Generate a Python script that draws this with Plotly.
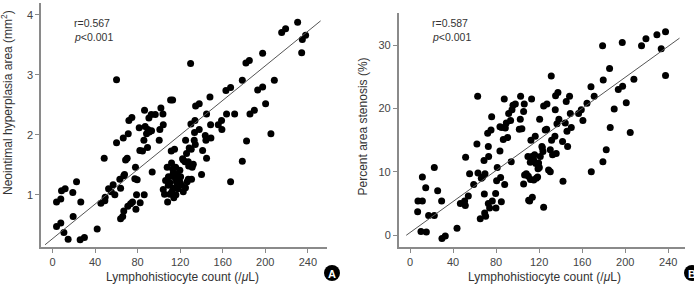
import plotly.graph_objects as go

# ---- Panel A data: lymphohistiocyte count vs neointimal hyperplasia area ----
a_x = [3.8, 7.8, 10.7, 14.7, 3.8, 7.8, 8.5, 11.9, 19.1, 22.6, 19.4, 26.6, 26, 30, 42,
       45.5, 49.2, 49.5, 48.6, 52.7, 55.2, 57, 58.6, 60.2, 60.2, 64, 63.3, 64, 66, 67,
       66.5, 67, 67.7, 68.7, 70.2, 71.2, 71.8, 74.6, 70.8, 73.4, 75.2, 77.4, 79.6, 78,
       78.4, 79, 81.5, 82.1, 84.6, 82.4, 85.9, 86.2, 86.5, 87.1, 88.4, 89.3, 90.6, 92.8,
       89.7, 90.9, 93.1, 93.7, 96.6, 100.3, 100.9, 101.9, 103.8, 104.1,
       104.1, 105.3, 106.3, 107.8, 108.2, 110.3, 108.8, 110.3, 111, 112.9, 111.9, 111.6,
       112.2, 113.5, 112.5, 113.5, 114.7, 115.7, 115.7, 116.6, 117.2, 118.2, 119.1, 119.7,
       120.4, 121.3, 122.3, 122.9, 122.9, 124.5, 126, 125.1, 126.6, 127.6, 127.6, 128.5,
       129.8, 130.1, 130.4, 130.7, 131.3, 132.3, 133.2, 134.2, 133.9, 134.5, 133.5, 137.9,
       137.9, 140.1, 141.1, 143.6, 144.8, 144.2, 144.8, 148, 148.9, 148.6, 155.8, 158.9,
       159.2, 163, 163.6, 167.4, 167.4, 171.2, 178.4, 178.4, 181.8, 185, 182.4, 185.6,
       189.7, 192.8, 197.5, 197.5, 200.3, 205.3, 208.5, 215.4, 219.1, 230.4, 234.2, 234.8,
       237.9, 109, 114, 116, 118, 120, 125, 113, 128]
a_y = [0.47, 0.53, 0.37, 0.26, 0.88, 0.93, 1.07, 1.1, 1.04, 1.22, 0.64, 0.88, 0.25, 0.29, 0.43,
       0.86, 0.9, 0.96, 1.61, 1.1, 1.05, 1.17, 1.0, 2.92, 1.87, 1.11, 1.26, 0.6, 0.64, 0.73,
       1.95, 1.32, 1.34, 1.58, 1.61, 2.02, 2.24, 2.29, 0.81, 0.85, 0.88, 1.27, 1.25, 1.46,
       0.76, 1.0, 2.12, 1.74, 1.73, 0.87, 1.91, 1.0, 2.41, 2.14, 2.02, 1.79, 2.28, 2.34,
       2.09, 2.05, 2.07, 1.38, 2.34, 1.91, 2.09, 2.45, 2.35, 2.17,
       1.09, 1.01, 1.24, 1.46, 0.88, 1.01, 1.16, 1.2, 2.58, 2.58, 1.53, 1.73,
       1.05, 1.11, 1.31, 1.36, 1.76, 1.46, 1.27, 1.21, 1.35, 1.16, 1.24, 1.41,
       1.3, 1.16, 1.6, 1.58, 1.05, 1.55, 1.69, 1.91, 1.22, 1.26, 1.55, 1.78,
       3.19, 2.18, 1.76, 1.26, 1.46, 1.51, 1.91, 1.84, 2.24, 2.48, 2.04, 2.52,
       2.09, 1.34, 1.74, 1.99, 2.35, 1.91, 1.61, 2.63, 1.95, 2.17, 2.17, 2.24,
       2.09, 2.74, 2.35, 2.79, 1.22, 2.35, 2.91, 1.56, 3.2, 3.24, 1.9, 2.35,
       2.41, 2.75, 3.36, 2.8, 2.52, 2.02, 2.91, 3.71, 3.77, 3.88, 3.37, 3.59,
       3.66, 1.3, 0.95, 1.0, 1.1, 1.2, 1.12, 1.43, 1.48]

# ---- Panel B data: lymphohistiocyte count vs percent area stenosis ----
b_x = [7.1, 7.4, 11.5, 11.5, 10.2, 15.2, 14.6, 17.3, 22.6, 22.6, 25.7, 29.4, 29.7, 32.8,
       43.7, 46.8, 51.4, 50.8, 51.7, 54.2, 55.4, 59.2, 62.2, 62.9, 63.2, 65.3, 66.3, 67.5,
       68.8, 69.1, 69.4, 70.3, 69.7, 72.2, 72.8, 73.1, 72.8, 74.0, 75.3, 75.9, 76.5, 79.6,
       79.9, 80.5, 81.1, 83.6, 85.2, 83.6, 84.2, 84.9, 86.7, 87.6, 88.0, 88.6, 89.5, 90.7,
       91.7, 93.5, 94.1, 94.8, 95.7, 97.9, 101.6, 102.5, 102.8, 105.6, 106.2, 105.6, 106.5,
       108.1, 109.6, 110.3, 111.2, 112.4, 113.0, 113.7, 111.8, 113.3, 114.9, 115.8, 116.4,
       117.4, 118.6, 119.5, 120.2, 120.5, 121.1, 122.6, 123.6, 124.2, 124.2, 125.7, 127.3,
       128.8, 130.4, 130.4, 131.3, 131.6, 132.5, 134.7, 135.0, 135.3, 137.5, 135.9, 136.6,
       138.4, 141.8, 142.2, 144.3, 145.2, 145.9, 146.5, 148.3, 149.0, 149.9, 156.7, 159.2,
       160.7, 164.5, 168.2, 168.5, 171.2, 179.0, 179.6, 179.3, 182.4, 185.5, 186.1, 189.8,
       193.6, 197.3, 197.6, 201.0, 204.7, 208.1, 215.2, 219.3, 229.5, 233.5, 237.5, 237.5,
       110, 112, 115, 117, 119, 104, 123, 127]
b_y = [3.7, 5.4, 5.4, 9.2, 0.6, 0.5, 7.5, 3.1, 3.1, 10.7, 7.0, 5.4, -0.5, -0.1,
       1.1, 5.0, 4.7, 5.4, 12.3, 6.2, 9.7, 8.0, 14.4, 21.9, 9.8, 2.6, 9.0, 9.2,
       11.8, 6.5, 3.5, 3.0, 9.7, 16.1, 14.0, 12.4, 5.0, 4.3, 16.6, 18.7, 5.4, 6.6,
       4.3, 8.6, 10.7, 17.1, 17.0, 13.3, 9.1, 5.3, 15.1, 21.5, 8.0, 16.9, 17.7, 15.4,
       19.2, 18.1, 11.6, 19.8, 20.5, 20.7, 16.7, 18.3, 21.9, 19.5, 20.7, 8.1, 9.5,
       9.7, 12.4, 5.5, 5.4, 15.0, 21.5, 6.0, 11.5, 12.4, 11.9, 12.7, 15.6,
       9.0, 9.2, 11.4, 10.7, 18.3, 12.4, 14.0, 13.2, 4.4, 20.4, 16.6, 20.7,
       10.3, 10.0, 13.5, 25.1, 15.0, 12.7, 15.6, 19.8, 22.0, 22.5, 12.9, 17.6,
       18.3, 14.8, 8.5, 17.7, 21.1, 16.4, 14.0, 21.9, 19.2, 17.0, 19.2, 19.8,
       18.1, 20.8, 23.4, 10.0, 21.9, 29.9, 24.5, 11.6, 13.5, 26.3, 17.0, 19.9,
       23.0, 30.4, 23.5, 20.9, 16.2, 24.6, 29.9, 31.0, 31.6, 29.4, 32.1, 25.2,
       9.3, 8.8, 8.7, 11.3, 10.5, 16.8, 13.8, 16.7]

# Regression lines (x extent, slope, intercept)
a_line_x = [-7, 252]
a_slope, a_intercept = 0.01442, 0.268
b_line_x = [-3.5, 250.5]
b_slope, b_intercept = 0.1224, 0.42

a_line_y = [a_intercept + a_slope * v for v in a_line_x]
b_line_y = [b_intercept + b_slope * v for v in b_line_x]

x_ticks = [0, 40, 80, 120, 160, 200, 240]
a_yticks = [1, 2, 3, 4]
b_yticks = [0, 10, 20, 30]

FONT = "Liberation Sans, Arial, sans-serif"
W, H = 694, 285

fig = go.Figure()
dot = dict(color="black", size=7)
fig.add_trace(go.Scatter(x=a_x, y=a_y, mode="markers", marker=dot, xaxis="x", yaxis="y"))
fig.add_trace(go.Scatter(x=a_line_x, y=a_line_y, mode="lines",
                         line=dict(color="#555555", width=1), xaxis="x", yaxis="y"))
fig.add_trace(go.Scatter(x=b_x, y=b_y, mode="markers", marker=dot, xaxis="x2", yaxis="y2"))
fig.add_trace(go.Scatter(x=b_line_x, y=b_line_y, mode="lines",
                         line=dict(color="#555555", width=1), xaxis="x2", yaxis="y2"))

axis_common = dict(showgrid=False, zeroline=False, showline=True, linecolor="#8a8a8a",
                   linewidth=1.5, ticks="outside", ticklen=4, tickcolor="#8a8a8a",
                   tickfont=dict(family=FONT, size=11, color="#444444"))

def px_x(p):
    return p / W

def px_y(p):
    return 1 - p / H

fig.update_layout(
    width=W, height=H, margin=dict(l=0, r=0, t=0, b=0),
    paper_bgcolor="white", plot_bgcolor="white", showlegend=False,
    xaxis=dict(domain=[px_x(41), px_x(327)], range=[-10.8, 258], tickvals=x_ticks,
               anchor="y", **axis_common),
    yaxis=dict(domain=[px_y(247), px_y(3)], range=[0.13, 4.2], tickvals=a_yticks,
               anchor="x", **axis_common),
    xaxis2=dict(domain=[px_x(398.7), px_x(685)], range=[-10.5, 255.6], tickvals=x_ticks,
                anchor="y2", **axis_common),
    yaxis2=dict(domain=[px_y(247.3), px_y(13.3)], range=[-1.9, 35], tickvals=b_yticks,
                anchor="x2", **axis_common),
)

title_font = dict(family=FONT, size=12, color="#333333")
small_font = dict(family=FONT, size=10.5, color="#333333")
ann = []
ann.append(dict(text="Lymphohistiocyte count (/<i>μ</i>L)", x=px_x(182), y=px_y(276.5),
                font=title_font))
ann.append(dict(text="Lymphohistiocyte count (/<i>μ</i>L)", x=px_x(544), y=px_y(276.5),
                font=title_font))
ann.append(dict(text="Neointimal hyperplasia area (mm<sup>2</sup>)", x=px_x(7), y=px_y(103),
                textangle=-90, font=title_font))
ann.append(dict(text="Percent area stenosis (%)", x=px_x(362.5), y=px_y(127),
                textangle=-90, font=title_font))
for lx, txt in [(71.7, "r=0.567"), (429.7, "r=0.587")]:
    ann.append(dict(text=txt, x=px_x(lx), y=px_y(23), xanchor="left", font=small_font))
    ann.append(dict(text="<i>p</i><0.001", x=px_x(lx), y=px_y(37.5), xanchor="left",
                    font=small_font))
for cx, letter in [(332, "A"), (692, "B")]:
    fig.add_shape(type="circle", xref="paper", yref="paper",
                  x0=px_x(cx - 8), x1=px_x(cx + 8), y0=px_y(273 + 8), y1=px_y(273 - 8),
                  fillcolor="black", line=dict(color="black", width=0))
    ann.append(dict(text="<b>" + letter + "</b>", x=px_x(cx), y=px_y(273.5),
                    font=dict(family=FONT, size=11, color="white")))
for a in ann:
    a.setdefault("xref", "paper")
    a.setdefault("yref", "paper")
    a.setdefault("showarrow", False)
    a.setdefault("xanchor", "center")
    a.setdefault("yanchor", "middle")
fig.update_layout(annotations=ann)

fig.write_html("out.html")
